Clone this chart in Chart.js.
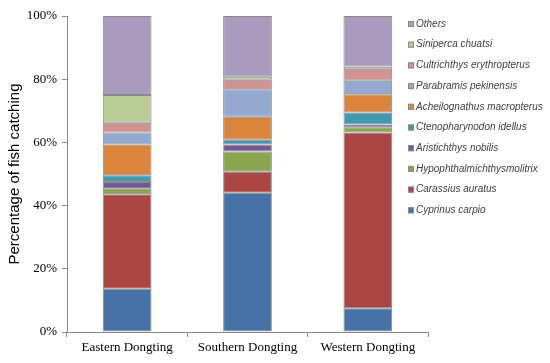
<!DOCTYPE html>
<html>
<head>
<meta charset="utf-8">
<script src="https://cdn.jsdelivr.net/npm/chart.js@4.4.1/dist/chart.umd.min.js"></script>
<style>
  html, body { margin: 0; padding: 0; background: #fff; }
  #wrap { width: 550px; height: 363px; position: relative; }
</style>
</head>
<body>
<div id="wrap"><canvas id="c" width="550" height="363"></canvas></div>
<script>
const categories = ['Eastern Dongting', 'Southern Dongting', 'Western Dongting'];
const yTicks = [0, 20, 40, 60, 80, 100];

const cyprinusCarpio = [13.7, 44.1, 7.5];
const carassiusAuratus = [29.9, 6.6, 55.6];
const hypophthalmichthys = [1.7, 6.4, 1.7];
const aristichthysNobilis = [2.2, 2.2, 0.9];
const ctenopharyngodon = [2.1, 1.5, 3.8];
const acheilognathus = [9.7, 7.3, 5.7];
const parabramis = [3.8, 8.7, 4.3];
const cultrichthys = [3.1, 3.0, 3.8];
const siniperca = [8.8, 1.0, 0.7];
const others = [25.0, 19.2, 16.0];

const seriesNames = [
  'Cyprinus carpio', 'Carassius auratus', 'Hypophthalmichthysmolitrix',
  'Aristichthys nobilis', 'Ctenopharynodon idellus', 'Acheilognathus macropterus',
  'Parabramis pekinensis', 'Cultrichthys erythropterus', 'Siniperca chuatsi', 'Others'
];
const seriesValues = [
  cyprinusCarpio, carassiusAuratus, hypophthalmichthys, aristichthysNobilis,
  ctenopharyngodon, acheilognathus, parabramis, cultrichthys, siniperca, others
];
const seriesColors = [
  '#4572A7', '#AA4643', '#89A54E', '#71588F', '#4198AF',
  '#DB843D', '#93A9CF', '#D19392', '#B9CD96', '#A99BBD'
];

const datasets = seriesNames.map((name, i) => ({
  label: name,
  data: seriesValues[i],
  backgroundColor: seriesColors[i],
  borderColor: '#8a8a8a',
  borderWidth: 1,
  borderSkipped: false,
  barPercentage: 0.405,
  categoryPercentage: 1.0
}));

const sideLegend = {
  id: 'sideLegend',
  afterDraw(chart) {
    const ctx = chart.ctx;
    const ds = chart.data.datasets;
    ctx.save();
    ctx.font = 'italic 10px "Liberation Sans", Arial, sans-serif';
    ctx.textBaseline = 'middle';
    ctx.textAlign = 'left';
    const x0 = 408, y0 = 24, step = 20.7, box = 6;
    for (let k = 0; k < ds.length; k++) {
      const d = ds[ds.length - 1 - k];
      const y = y0 + k * step;
      ctx.fillStyle = d.backgroundColor;
      ctx.fillRect(x0, y - box / 2, box, box);
      ctx.strokeStyle = '#8a8a8a';
      ctx.lineWidth = 1;
      ctx.strokeRect(x0 + 0.5, y - box / 2 + 0.5, box - 1, box - 1);
      ctx.fillStyle = '#404040';
      ctx.fillText(d.label, x0 + 8, y);
    }
    ctx.restore();
  }
};

new Chart(document.getElementById('c'), {
  type: 'bar',
  data: { labels: categories, datasets },
  options: {
    responsive: false,
    animation: false,
    layout: { padding: { top: 16, right: 122, left: 0, bottom: 0 } },
    plugins: { legend: { display: false }, tooltip: { enabled: false } },
    scales: {
      x: {
        stacked: true,
        grid: { drawOnChartArea: false, drawTicks: true, tickLength: 5, color: '#898989', offset: true },
        border: { color: '#898989', width: 1 },
        ticks: { color: '#000', padding: 3, font: { family: '"Liberation Serif", "Times New Roman", serif', size: 13 } },
        afterFit(scale) { scale.height = 31; }
      },
      y: {
        stacked: true,
        min: 0, max: 100,
        afterBuildTicks(scale) { scale.ticks = yTicks.map(v => ({ value: v })); },
        grid: { drawOnChartArea: false, drawTicks: true, tickLength: 5, color: '#898989' },
        border: { color: '#898989', width: 1 },
        ticks: {
          color: '#000', padding: 5,
          font: { family: '"Liberation Serif", "Times New Roman", serif', size: 13 },
          callback: v => v + '%'
        },
        title: {
          display: true,
          text: 'Percentage of fish catching',
          color: '#000',
          padding: { top: 6, bottom: 0 },
          font: { family: '"Liberation Sans", Arial, sans-serif', size: 15 }
        },
        afterFit(scale) { scale.width = 67; }
      }
    }
  },
  plugins: [sideLegend]
});
</script>
</body>
</html>
